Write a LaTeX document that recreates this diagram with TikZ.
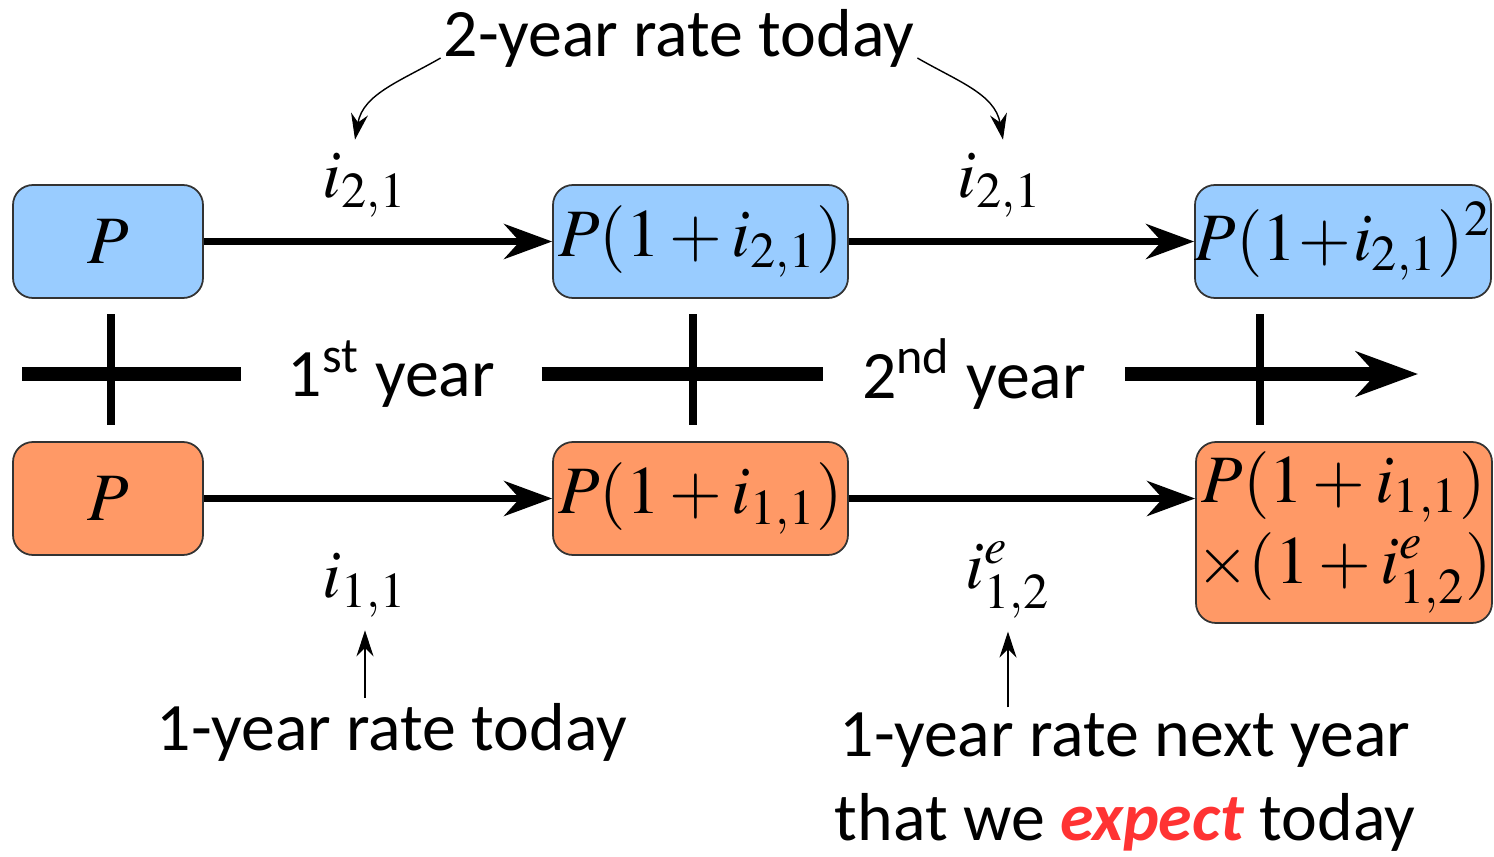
\documentclass[tikz,border=0pt]{standalone}
\usepackage{mathptmx}
\usepackage[no-math]{fontspec}
\setmainfont{Carlito}
\usetikzlibrary{arrows.meta,positioning,calc}
\definecolor{boxblue}{HTML}{99CCFF}
\definecolor{boxorange}{HTML}{FF9966}
\definecolor{expred}{HTML}{FF3333}

\begin{document}
\begin{tikzpicture}[>=Stealth, line width=0.9pt,
  font=\fontsize{19.3}{24.1}\selectfont,
  valbox/.style={draw=black!80, line width=0.5pt, rounded corners=0.2cm,
    minimum height=1.13cm, inner sep=0pt},
  flow/.style={-{Stealth[length=0.48cm,width=0.35cm]}, line width=2pt},
  pointer/.style={-{Stealth[length=0.26cm,width=0.17cm]}, line width=0.4pt},
  axis/.style={line width=4.2pt}]
  \useasboundingbox (0,0) rectangle (14.94,8.56);
  % two-year bond (top row)
  \node[valbox, fill=boxblue, minimum width=1.90cm] (t1) at (1.08,6.145) {$P$};
  \node[valbox, fill=boxblue, minimum width=2.95cm] (t2) at (7.005,6.145) {$P(1+i_{2,1})$};
  \node[valbox, fill=boxblue, minimum width=2.94cm] (t3) at (13.43,6.145)
    {$\medmuskip=0.5mu P(1+i_{2,1})^2$};
  \draw[flow] (t1) -- (t2);
  \draw[flow] (t2) -- (t3);
  \node (r2a) at (3.65,6.71) {$i_{2,1}$};
  \node (r2b) at (10.00,6.71) {$i_{2,1}$};
  % one-year bonds (bottom row)
  \node[valbox, fill=boxorange, minimum width=1.90cm] (b1) at (1.08,3.575) {$P$};
  \node[valbox, fill=boxorange, minimum width=2.95cm] (b2) at (7.005,3.575) {$P(1+i_{1,1})$};
  \node[valbox, fill=boxorange, minimum width=2.96cm, minimum height=1.81cm, align=center]
    (b3) at (13.44,3.235) {$P(1+i_{1,1})$\\[-1pt]$\times(1+i^e_{1,2})$};
  \draw[flow] (b1) -- (b2);
  \draw[flow] (b2.east) -- (b2.east -| b3.west);
  \node (r11) at (3.65,2.71) {$i_{1,1}$};
  \node (r12) at (10.08,2.76) {$i^e_{1,2}$};
  % time axis
  \coordinate (ax0) at (0.22,4.82);
  \coordinate (axend) at (14.18,4.82);
  \node[inner xsep=0.45cm] (yr1) at (3.915,4.82) {1\textsuperscript{st} year};
  \node[inner xsep=0.375cm] (yr2) at (9.74,4.82) {2\textsuperscript{nd} year};
  \draw[axis] (ax0) -- (yr1.west);
  \draw[axis] (yr1.east) -- (yr2.west);
  \draw[axis, -{Stealth[length=0.62cm,width=0.45cm]}] (yr2.east) -- (axend);
  \foreach \x in {1.11,6.93,12.60}
    \draw[line width=2.2pt] (\x,5.42) -- (\x,4.31);
  % notes
  \node (title) at (6.79,8.18) {2-year rate today};
  \draw[pointer] ([shift={(0.1,-0.2)}]title.west) to[out=210,in=80] ([xshift=-0.1cm]r2a.north);
  \draw[pointer] ([shift={(-0.1,-0.2)}]title.east) to[out=-30,in=100] ([xshift=0.03cm]r2b.north);
  \node[inner sep=1pt] (note1) at (3.92,1.24) {1-year rate today};
  \node[inner sep=1pt, align=center] (note2) at (11.25,0.74)
    {1-year rate next year\\that we \textcolor{expred}{\textbf{\textit{expect}}} today};
  \draw[pointer] (r11.south |- note1.north) -- (r11.south);
  \draw[pointer] (r12.south |- note2.north) -- (r12.south);
\end{tikzpicture}
\end{document}
